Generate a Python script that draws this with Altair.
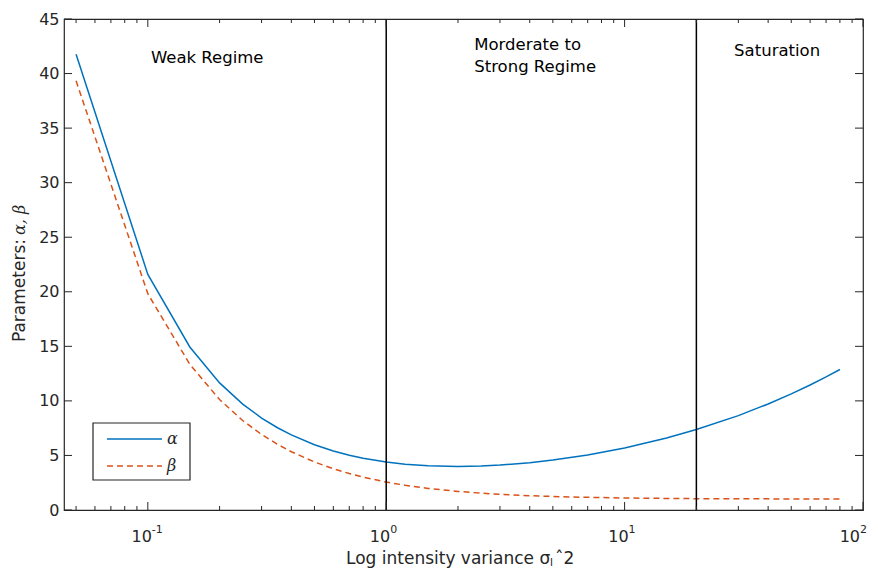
import altair as alt
import pandas as pd

# ---- data ----
x_vals = [0.05, 0.1, 0.15, 0.2, 0.25, 0.3, 0.35, 0.4, 0.5, 0.6, 0.7, 0.8, 1, 1.2, 1.5, 2, 2.5, 3, 4, 5, 7,
          10, 15, 20, 30, 40, 50, 60, 70, 80]
alpha_vals = [41.77, 21.59, 14.94, 11.65, 9.71, 8.43, 7.54, 6.88, 5.98, 5.41, 5.02, 4.74, 4.39, 4.20, 4.05, 3.99,
              4.03, 4.12, 4.34, 4.58, 5.05, 5.69, 6.60, 7.37, 8.65, 9.72, 10.64, 11.46, 12.20, 12.88]
beta_vals = [39.34, 19.82, 13.35, 10.12, 8.20, 6.92, 6.02, 5.34, 4.40, 3.78, 3.34, 3.01, 2.56, 2.27, 1.98, 1.70,
             1.54, 1.44, 1.31, 1.24, 1.16, 1.10, 1.06, 1.04, 1.03, 1.02, 1.01, 1.01, 1.01, 1.01]

regime_bounds = [1, 20]
ann_x = [0.103, 2.34, 2.34, 28.8]
ann_y = [41.0, 42.15, 40.1, 41.6]
ann_text = ["Weak Regime", "Morderate to", "Strong Regime", "Saturation"]

y_ticks = [0, 5, 10, 15, 20, 25, 30, 35, 40, 45]
x_major = [0.1, 1, 10, 100]
x_major_exp = ["-1", "0", "1", "2"]
x_minor = [0.05, 0.06, 0.07, 0.08, 0.09,
           0.2, 0.3, 0.4, 0.5, 0.6, 0.7, 0.8, 0.9,
           2, 3, 4, 5, 6, 7, 8, 9,
           20, 30, 40, 50, 60, 70, 80, 90]

W, H = 799, 491
AX = "#262626"
FONT = "DejaVu Sans"
SERIF = "DejaVu Serif"

df = pd.DataFrame({"x": x_vals, "alpha": alpha_vals, "beta": beta_vals})
xs = alt.Scale(type="log", domain=[0.0445, 100], nice=False)
ys = alt.Scale(domain=[0, 45], nice=False, zero=False)

base = alt.Chart(df)

alpha_line = base.mark_line(color="#0072BD", strokeWidth=1.5).encode(
    x=alt.X("x:Q", scale=xs, axis=alt.Axis(labels=False, ticks=False, domain=False, grid=False, title=None)),
    y=alt.Y("alpha:Q", scale=ys, axis=alt.Axis(values=y_ticks, ticks=False, domain=False, grid=False, title=None,
                                               labelFont=FONT, labelFontSize=16, labelPadding=5, labelColor=AX)),
)
beta_line = base.mark_line(color="#D95319", strokeWidth=1.5, strokeDash=[6, 4]).encode(
    x=alt.X("x:Q", scale=xs), y=alt.Y("beta:Q", scale=ys)
)

vrules = alt.Chart(pd.DataFrame({"b": regime_bounds})).mark_rule(color="black", strokeWidth=1.5).encode(
    x=alt.X("b:Q", scale=xs), y=alt.value(0), y2=alt.value(H)
)

ann = alt.Chart(pd.DataFrame({"x": ann_x, "y": ann_y, "t": ann_text})).mark_text(
    font=FONT, fontSize=16.5, align="left", baseline="alphabetic", color="black"
).encode(x=alt.X("x:Q", scale=xs), y=alt.Y("y:Q", scale=ys), text="t:N")

# inward ticks
maj_df = pd.DataFrame({"v": x_major})
min_df = pd.DataFrame({"v": x_minor})
yt_df = pd.DataFrame({"v": y_ticks})
tick_layers = [
    alt.Chart(maj_df).mark_rule(color=AX, strokeWidth=1).encode(x=alt.X("v:Q", scale=xs), y=alt.value(H), y2=alt.value(H - 8)),
    alt.Chart(maj_df).mark_rule(color=AX, strokeWidth=1).encode(x=alt.X("v:Q", scale=xs), y=alt.value(0), y2=alt.value(8)),
    alt.Chart(min_df).mark_rule(color=AX, strokeWidth=1).encode(x=alt.X("v:Q", scale=xs), y=alt.value(H), y2=alt.value(H - 4)),
    alt.Chart(min_df).mark_rule(color=AX, strokeWidth=1).encode(x=alt.X("v:Q", scale=xs), y=alt.value(0), y2=alt.value(4)),
    alt.Chart(yt_df).mark_rule(color=AX, strokeWidth=1).encode(y=alt.Y("v:Q", scale=ys), x=alt.value(0), x2=alt.value(8)),
    alt.Chart(yt_df).mark_rule(color=AX, strokeWidth=1).encode(y=alt.Y("v:Q", scale=ys), x=alt.value(W), x2=alt.value(W - 8)),
]

lab_df = pd.DataFrame({"v": x_major, "e": x_major_exp, "ten": ["10"] * len(x_major)})
lab_in = lab_df.iloc[:-1]
lab_last = lab_df.iloc[-1:]
xlab_layers = []
for d, off in ((lab_in, 4), (lab_last, -3)):
    xlab_layers.append(alt.Chart(d).mark_text(font=FONT, fontSize=16, align="right", baseline="alphabetic", dx=off, color=AX).encode(
        x=alt.X("v:Q", scale=xs), y=alt.value(H + 32), text="ten:N"))
    xlab_layers.append(alt.Chart(d).mark_text(font=FONT, fontSize=11, align="left", baseline="alphabetic", dx=off, color=AX).encode(
        x=alt.X("v:Q", scale=xs), y=alt.value(H + 23), text="e:N"))

# x-axis title pieces
xt1 = alt.Chart(pd.DataFrame({"t": ["Log intensity variance σ"]})).mark_text(
    font=FONT, fontSize=17, align="left", baseline="alphabetic", color=AX).encode(
    x=alt.value(282), y=alt.value(H + 54), text="t:N")
xt2 = alt.Chart(pd.DataFrame({"t": ["I"]})).mark_text(
    font=FONT, fontSize=10, align="left", baseline="alphabetic", color=AX).encode(
    x=alt.value(486), y=alt.value(H + 56), text="t:N")
xt3 = alt.Chart(pd.DataFrame({"t": ["ˆ2"]})).mark_text(
    font=FONT, fontSize=17, align="left", baseline="alphabetic", color=AX).encode(
    x=alt.value(491), y=alt.value(H + 54), text="t:N")

# y-axis title pieces
yt1 = alt.Chart(pd.DataFrame({"t": ["Parameters:"]})).mark_text(
    font=FONT, fontSize=17, align="right", baseline="alphabetic", angle=270, color=AX).encode(
    x=alt.value(-39), y=alt.value(220), text="t:N")
yt2 = alt.Chart(pd.DataFrame({"t": ["α, β"]})).mark_text(
    font=SERIF, fontSize=16, fontStyle="italic", align="left", baseline="alphabetic", angle=270, dx=4, color=AX).encode(
    x=alt.value(-39), y=alt.value(220), text="t:N")

# legend box
leg_box = alt.Chart(pd.DataFrame({"k": [0]})).mark_rect(fill="white", stroke=AX, strokeWidth=1.2).encode(
    x=alt.value(29), x2=alt.value(126), y=alt.value(404), y2=alt.value(461))
leg_a = alt.Chart(pd.DataFrame({"k": [0]})).mark_rule(color="#0072BD", strokeWidth=1.5).encode(
    x=alt.value(43), x2=alt.value(98), y=alt.value(420))
leg_b = alt.Chart(pd.DataFrame({"k": [0]})).mark_rule(color="#D95319", strokeWidth=1.5, strokeDash=[6, 4]).encode(
    x=alt.value(43), x2=alt.value(98), y=alt.value(447))
leg_t = alt.Chart(pd.DataFrame({"t": ["α", "β"], "yy": [420, 447]})).mark_text(
    font=SERIF, fontSize=16, fontStyle="italic", align="left", baseline="middle", color=AX).encode(
    x=alt.value(103), y=alt.Y("yy:Q", scale=None), text="t:N")

chart = alt.layer(
    alpha_line, beta_line, vrules, ann, *tick_layers, *xlab_layers, xt1, xt2, xt3, yt1, yt2,
    leg_box, leg_a, leg_b, leg_t
).properties(
    width=W, height=H,
    autosize=alt.AutoSizeParams(type="none"),
    padding={"left": 56, "top": 11, "right": 7, "bottom": 58},
    background="white",
).configure_view(stroke=AX, strokeWidth=1.2)

chart.save("out.html", embed_options={"renderer": "svg", "actions": False})
